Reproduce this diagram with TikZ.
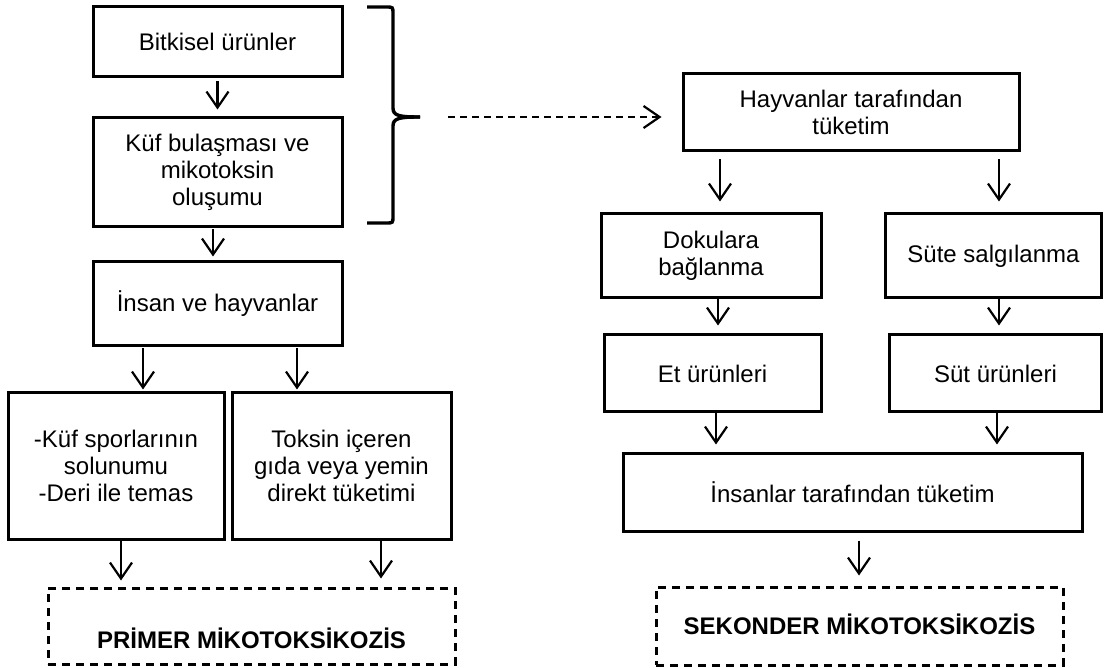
\documentclass[tikz,border=0pt]{standalone}
\usepackage{fontspec}
\setmainfont{Liberation Sans}
\usetikzlibrary{arrows.meta}

\begin{document}
\begin{tikzpicture}[x=1pt, y=-1pt, node distance=131pt, font=\fontsize{24}{27}\selectfont]
\tikzstyle{box} = [rectangle, draw=black, line width=3pt, text centered, align=center, inner sep=0pt]
\tikzstyle{endbox} = [box, dash pattern=on 8pt off 6pt, font=\fontsize{24}{27}\selectfont\bfseries, text depth=0pt]
\tikzstyle{arrow} = [line width=2.2pt, -{Straight Barb[length=16pt, width=22pt, line width=2.2pt]}]
\tikzstyle{dasharrow} = [arrow, dash pattern=on 7pt off 5pt]
\tikzstyle{curly} = [line width=3.4pt]
\useasboundingbox (0,0) rectangle (1104,668);
% Nodes
\node (bitki) [box, minimum width=249pt, minimum height=70pt] at (217.5,42) {Bitkisel ürünler};
\node (kuf) [box, below of=bitki, yshift=0.5pt, minimum width=249pt, minimum height=109pt] {Küf bulaşması ve\\mikotoksin\\oluşumu};
\node (insan) [box, below of=kuf, yshift=-0.5pt, minimum width=249pt, minimum height=84pt] {İnsan ve hayvanlar};
\node (spor) [box, below of=insan, xshift=-101.5pt, yshift=-31pt, minimum width=216pt, minimum height=146pt] {-Küf sporlarının\\solunumu\\-Deri ile temas};
\node (toksin) [box, below of=insan, xshift=124pt, yshift=-31pt, minimum width=219pt, minimum height=146pt] {Toksin içeren\\gıda veya yemin\\direkt tüketimi};
\node (primer) [endbox, below of=spor, xshift=135.5pt, yshift=-29pt, minimum width=407pt, minimum height=76pt, text height=44pt] {PRİMER MİKOTOKSİKOZİS};

\node (hayv) [box, minimum width=336pt, minimum height=77pt] at (851,112.5) {Hayvanlar tarafından\\tüketim};
\node (dok) [box, below of=hayv, xshift=-140pt, yshift=-12.5pt, minimum width=220pt, minimum height=84pt] {Dokulara\\bağlanma};
\node (sute) [box, below of=hayv, xshift=142.5pt, yshift=-12.5pt, minimum width=216pt, minimum height=84pt] {Süte salgılanma};
\node (et) [box, below of=dok, xshift=1.5pt, yshift=13.5pt, minimum width=217pt, minimum height=77pt] {Et ürünleri};
\node (sut) [box, below of=sute, xshift=2pt, yshift=13.5pt, minimum width=212pt, minimum height=77pt] {Süt ürünleri};
\node (ins) [box, below of=et, xshift=140pt, yshift=12pt, minimum width=459pt, minimum height=77pt] {İnsanlar tarafından tüketim};
\node (sek) [endbox, below of=ins, xshift=7pt, yshift=-2.5pt, minimum width=407pt, minimum height=78pt, text height=17pt] {SEKONDER MİKOTOKSİKOZİS};

% Brace
\coordinate (bracetip) at (420,117);
\draw [curly] (367,7) -- (386,7) .. controls (393,7) .. (393,14) -- (393,108) .. controls (393,116) and (400,117) .. (bracetip);
\draw [curly] (367,223) -- (386,223) .. controls (393,223) .. (393,216) -- (393,126) .. controls (393,118) and (400,117) .. (bracetip);

% Arrows
\draw [dasharrow, shorten <=28pt, shorten >=20pt] (bracetip) -- ([yshift=-4.5pt]hayv.west);
\draw [arrow, shorten <=3pt, shorten >=7pt] (bitki.south) -- (kuf.north);
\draw [arrow, shorten <=1pt, shorten >=4pt] ([xshift=-4.5pt]kuf.south) -- ([xshift=-4.5pt]insan.north);
\draw [arrow, shorten <=1pt, shorten >=2pt] ([xshift=-74.5pt]insan.south) -- ([xshift=27pt]spor.north);
\draw [arrow, shorten <=1pt, shorten >=2pt] ([xshift=79.5pt]insan.south) -- ([xshift=-44.5pt]toksin.north);
\draw [arrow, shorten >=6pt] ([xshift=5pt]spor.south) -- ([xshift=-130.5pt]primer.north);
\draw [arrow, shorten >=8pt] ([xshift=39.5pt]toksin.south) -- ([xshift=129.5pt]primer.north);

\draw [arrow, shorten <=7pt, shorten >=11pt] ([xshift=-131pt]hayv.south) -- ([xshift=9pt]dok.north);
\draw [arrow, shorten <=7pt, shorten >=11pt] ([xshift=148pt]hayv.south) -- ([xshift=5.5pt]sute.north);
\draw [arrow, shorten >=8pt] ([xshift=7pt]dok.south) -- ([xshift=5.5pt]et.north);
\draw [arrow, shorten >=8pt] ([xshift=5.5pt]sute.south) -- ([xshift=3.5pt]sut.north);
\draw [arrow, shorten >=8pt] ([xshift=3.5pt]et.south) -- ([xshift=-136.5pt]ins.north);
\draw [arrow, shorten >=8pt] ([xshift=1.5pt]sut.south) -- ([xshift=144.5pt]ins.north);
\draw [arrow, shorten <=8pt, shorten >=10pt] ([xshift=6.5pt]ins.south) -- ([xshift=-0.5pt]sek.north);

\end{tikzpicture}
\end{document}
